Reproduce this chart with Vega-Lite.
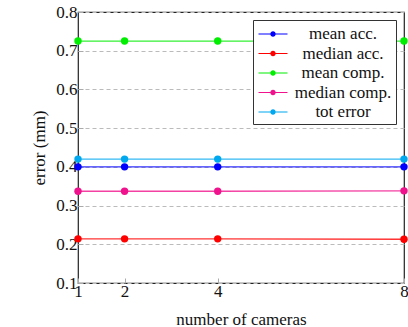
{
  "$schema": "https://vega.github.io/schema/vega-lite/v6.json",
  "width": 326,
  "height": 271,
  "autosize": {"type": "none"},
  "padding": {"left": 78, "top": 12, "right": 4, "bottom": 44},
  "config": {
    "font": "Liberation Serif",
    "view": {"stroke": "#222", "strokeWidth": 1.2},
    "axis": {"labelFont": "Liberation Serif", "titleFont": "Liberation Serif", "labelColor": "#111", "titleColor": "#111", "titleFontWeight": "normal"},
    "legend": {"labelFont": "Liberation Serif"}
  },
  "data": {
    "values": [
      {"series": "mean acc.", "cameras": 1, "error": 0.400},
      {"series": "mean acc.", "cameras": 2, "error": 0.400},
      {"series": "mean acc.", "cameras": 4, "error": 0.400},
      {"series": "mean acc.", "cameras": 8, "error": 0.400},
      {"series": "median acc.", "cameras": 1, "error": 0.214},
      {"series": "median acc.", "cameras": 2, "error": 0.214},
      {"series": "median acc.", "cameras": 4, "error": 0.214},
      {"series": "median acc.", "cameras": 8, "error": 0.213},
      {"series": "mean comp.", "cameras": 1, "error": 0.725},
      {"series": "mean comp.", "cameras": 2, "error": 0.725},
      {"series": "mean comp.", "cameras": 4, "error": 0.725},
      {"series": "mean comp.", "cameras": 8, "error": 0.725},
      {"series": "median comp.", "cameras": 1, "error": 0.337},
      {"series": "median comp.", "cameras": 2, "error": 0.337},
      {"series": "median comp.", "cameras": 4, "error": 0.337},
      {"series": "median comp.", "cameras": 8, "error": 0.338},
      {"series": "tot error", "cameras": 1, "error": 0.420},
      {"series": "tot error", "cameras": 2, "error": 0.420},
      {"series": "tot error", "cameras": 4, "error": 0.420},
      {"series": "tot error", "cameras": 8, "error": 0.420}
    ]
  },
  "encoding": {
    "x": {
      "field": "cameras", "type": "quantitative",
      "scale": {"domain": [1, 8], "nice": false, "zero": false},
      "axis": {"values": [1, 2, 4, 8], "title": "number of cameras", "grid": false, "domain": false, "tickSize": -5, "tickColor": "#aaa", "labelFontSize": 17, "titleFontSize": 17, "titlePadding": 12, "labelPadding": 5, "labelFlush": false}
    },
    "y": {
      "field": "error", "type": "quantitative",
      "scale": {"domain": [0.1, 0.8], "nice": false, "zero": false},
      "axis": {"values": [0.1, 0.2, 0.3, 0.4, 0.5, 0.6, 0.7, 0.8], "format": ".1f", "title": "error (mm)", "grid": true, "gridColor": "#bbb", "gridDash": [4, 3], "domain": false, "tickSize": -5, "tickColor": "#aaa", "labelFontSize": 17, "titleFontSize": 17, "titlePadding": 7, "labelPadding": 6}
    },
    "color": {
      "field": "series", "type": "nominal",
      "scale": {
        "domain": ["mean acc.", "median acc.", "mean comp.", "median comp.", "tot error"],
        "range": ["#0000ff", "#ff0000", "#00ee00", "#f0128c", "#00a8f0"]
      },
      "legend": {
        "title": null, "orient": "top-right", "offset": 8,
        "strokeColor": "#333", "fillColor": "white", "padding": 4,
        "labelFontSize": 17, "labelColor": "#111", "labelAlign": "center",
        "symbolType": "M-1.45,-0.05H1.45V0.05H-1.45Z M0.27,0 A0.27,0.27 0 1,1 -0.27,0 A0.27,0.27 0 1,1 0.27,0Z",
        "symbolSize": 400, "symbolStrokeWidth": 0, "symbolOpacity": 1, "symbolOffset": 6,
        "rowPadding": 1.5, "labelOffset": 60
      }
    }
  },
  "layer": [
    {"mark": {"type": "line", "strokeWidth": 1.3, "strokeOpacity": 0.8}},
    {"mark": {"type": "point", "filled": true, "size": 55, "opacity": 1, "shape": "circle"}}
  ]
}
